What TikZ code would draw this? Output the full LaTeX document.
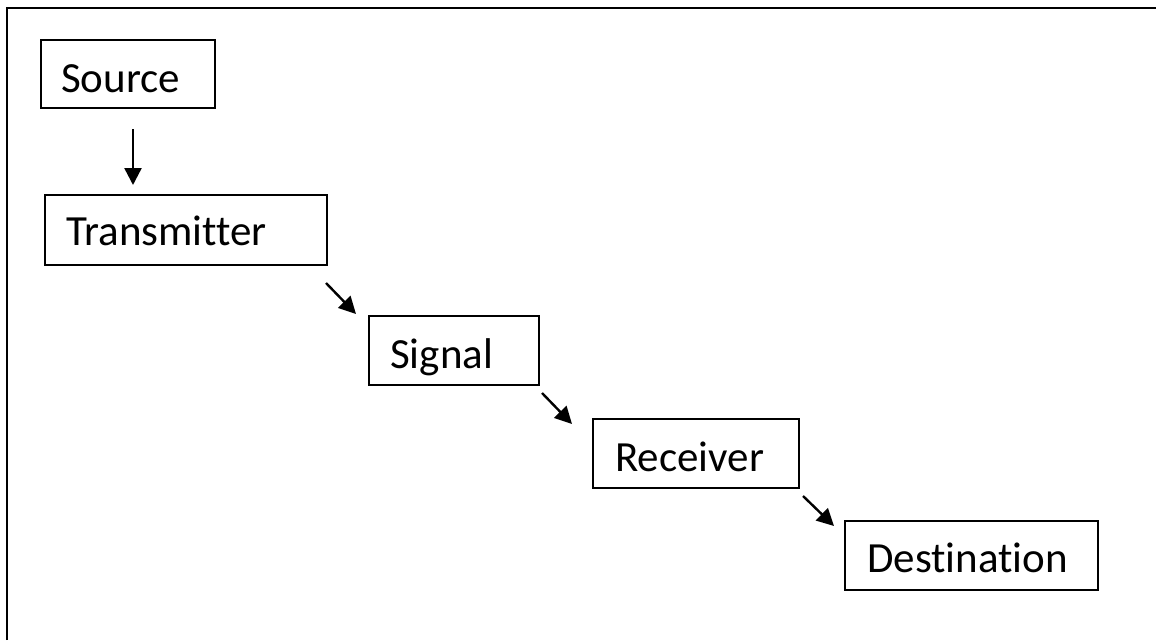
\documentclass[tikz,border=0pt]{standalone}
\usepackage{fontspec}
\setmainfont{Carlito}[Ligatures=NoCommon]
\usetikzlibrary{arrows.meta}
\begin{document}
\begin{tikzpicture}[x=1pt,y=-1pt,
  box/.style={draw=black,line width=1.8pt},
  lbl/.style={anchor=base west,inner sep=0pt,font=\fontsize{43}{50}\selectfont},
  arr/.style={line width=2.4pt,-{Triangle[length=17pt,width=17pt]}}]
\useasboundingbox (0,0) rectangle (1156,640);
\draw[line width=2.2pt] (7,640) -- (7,8) -- (1156,8);
% boxes
\draw[box] (41,40) rectangle (215,108);
\draw[box] (45,195) rectangle (327,265);
\draw[box] (369,316) rectangle (539,385);
\draw[box] (593,419) rectangle (799,488);
\draw[box] (845,521) rectangle (1098,590);
% labels
\node[lbl] (src) at (61,92) {Source};
\node[lbl] (tx) at (66,245) {Transmitter};
\node[lbl] (sig) at (390,368) {Signal};
\node[lbl] (rx) at (615,471) {Receiver};
\node[lbl] (dst) at (867,572) {Destination};
% arrows
\coordinate (a1s) at (133,129); \coordinate (a1e) at (133,185);
\coordinate (a2s) at (326,283); \coordinate (a2e) at (356,314);
\coordinate (a3s) at (542,393); \coordinate (a3e) at (572,424);
\coordinate (a4s) at (803,496); \coordinate (a4e) at (834,526);
\draw[arr] (a1s) -- (a1e);
\draw[arr] (a2s) -- (a2e);
\draw[arr] (a3s) -- (a3e);
\draw[arr] (a4s) -- (a4e);
\end{tikzpicture}
\end{document}
